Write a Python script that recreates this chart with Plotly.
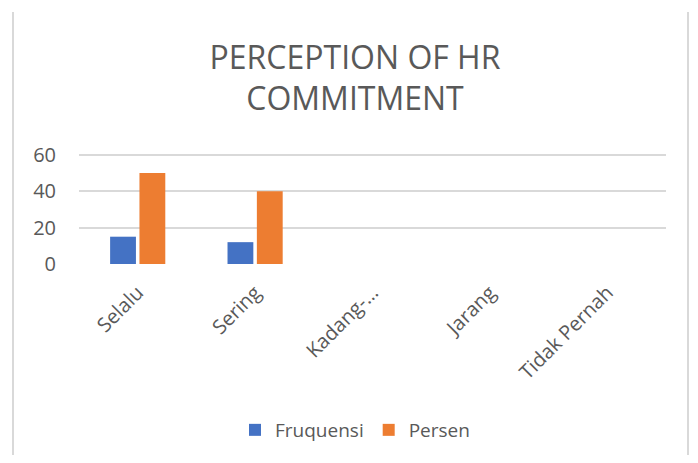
import plotly.graph_objects as go

categories = ["Selalu", "Sering", "Kadang-…", "Jarang", "Tidak Pernah"]
fruquensi = [15, 12, 0, 0, 0]
persen = [50, 40, 0, 0, 0]
y_ticks = [0, 20, 40, 60]

TXT = "#595959"
FONT = "Open Sans"

# The page body has an 8px margin, so the figure is drawn 8px in from the window edge.
OFF = 8
W, H = 698 - 2 * OFF, 463 - 2 * OFF

fig = go.Figure()
fig.add_trace(go.Bar(name="Fruquensi", x=categories, y=fruquensi, marker_color="#4472C4",
                     marker_line_width=0))
fig.add_trace(go.Bar(name="Persen", x=categories, y=persen, marker_color="#ED7D31",
                     marker_line_width=0))

# plot area in screen pixels: x 79..666, y 153..264
L = 79 - OFF
R = W - (666 - OFF)
T = 153 - OFF
B = H - (264 - OFF)
ph = H - T - B
pw = W - L - R

def py(p):  # screen px -> paper y
    return (H - B - (p - OFF)) / ph

def pxp(p):  # screen px -> paper x
    return (p - OFF - L) / pw

fig.update_layout(
    width=W, height=H,
    margin=dict(l=L, r=R, t=T, b=B, autoexpand=False),
    paper_bgcolor="white", plot_bgcolor="white",
    barmode="group", bargap=0.5, bargroupgap=0.12,
    title=dict(text="PERCEPTION OF HR<br>COMMITMENT", x=(355 - OFF) / W, xanchor="center",
               y=1 - 60.5 / H, yanchor="middle", yref="container",
               font=dict(family=FONT, size=32, color=TXT)),
    font=dict(family=FONT, color=TXT),
    yaxis=dict(range=[0, 61], tickvals=y_ticks, showgrid=True, gridcolor="#D9D9D9", gridwidth=1.5,
               zeroline=False, showline=False, ticks="", tickfont=dict(size=20, color=TXT),
               ticklabelstandoff=22, automargin=False),
    xaxis=dict(tickangle=-45, showline=False, ticks="", tickfont=dict(size=20, color=TXT),
               ticklabelstandoff=12, automargin=False),
    legend=dict(orientation="h", x=pxp(355), xanchor="center", y=py(430),
                yanchor="middle", font=dict(size=19, color=TXT), itemwidth=30,
                traceorder="normal"),
    showlegend=True,
)

for xp in (13, 688):
    fig.add_shape(type="line", xref="paper", yref="paper",
                  x0=pxp(xp), x1=pxp(xp),
                  y0=py(12), y1=py(470),
                  line=dict(color="#D9D9D9", width=2))

fig.write_html("out.html")
